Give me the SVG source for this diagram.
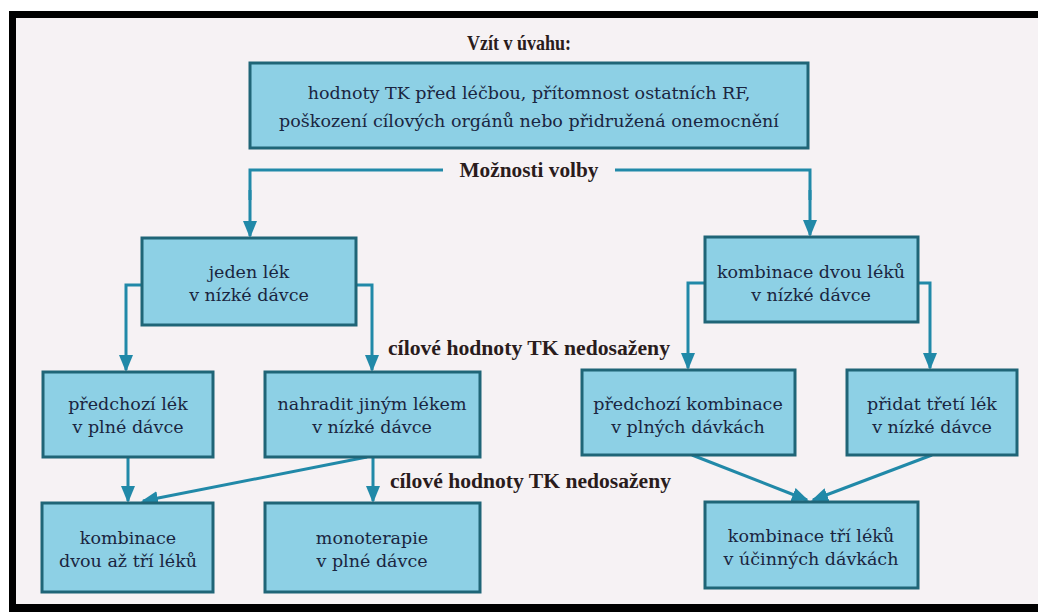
<svg xmlns="http://www.w3.org/2000/svg" width="1038" height="612" viewBox="0 0 1038 612">
<style>
.bx{fill:#8dd0e5;stroke:#1f6577;stroke-width:3}
.t{font-family:"DejaVu Serif","Liberation Serif",serif;font-size:17.5px;fill:#1a2540;text-anchor:middle}
.lb{font-family:"Liberation Serif","DejaVu Serif",serif;font-weight:bold;font-size:21px;fill:#2a1c1c}
.c{fill:none;stroke:#2189a8;stroke-width:3;marker-end:url(#ah)}
.cn{fill:none;stroke:#2189a8;stroke-width:3}
</style>
<defs>
<marker id="ah" markerUnits="userSpaceOnUse" markerWidth="17" markerHeight="14" refX="15" refY="7" orient="auto">
<path d="M0,0 L17,7 L0,14 z" fill="#2189a8"/>
</marker>
</defs>
<rect x="0" y="0" width="1038" height="612" fill="#ffffff"/>
<rect x="12" y="14" width="1026" height="594" fill="#f6f2f4"/>
<path d="M12.5,604 L12.5,14.5 L1038,14.5" fill="none" stroke="#000" stroke-width="7"/>
<rect x="9" y="604" width="1029" height="8" fill="#000"/>

<g id="labels">
<text class="lb" x="519" y="50" text-anchor="middle" font-size="19" textLength="104" lengthAdjust="spacingAndGlyphs">Vzít v úvahu:</text>
<text class="lb" x="529" y="177" text-anchor="middle" textLength="139" lengthAdjust="spacingAndGlyphs">Možnosti volby</text>
<text class="lb" x="388" y="355" textLength="282" lengthAdjust="spacingAndGlyphs">cílové hodnoty TK nedosaženy</text>
<text class="lb" x="390" y="488" textLength="281" lengthAdjust="spacingAndGlyphs">cílové hodnoty TK nedosaženy</text>
</g>

<g id="connectors">
<path class="cn" d="M443,170 L250,170 L250,200"/>
<path class="c" d="M250,190 L250,236"/>
<path class="cn" d="M615,170 L810,170 L810,200"/>
<path class="c" d="M810,190 L810,235"/>
<path class="c" d="M142,285 L126,285 L126,370"/>
<path class="c" d="M356,285 L372,285 L372,370"/>
<path class="c" d="M705,283 L688,283 L688,368"/>
<path class="c" d="M918,283 L930,283 L930,368"/>
<path class="c" d="M128,457 L128,501"/>
<path class="c" d="M367,457 L143,501"/>
<path class="c" d="M373,457 L373,501"/>
<path class="c" d="M692,455 L807,500"/>
<path class="c" d="M932,455 L813,500"/>
</g>

<g id="n-top"><rect class="bx" x="250" y="63" width="558" height="85"/>
<text class="t" x="529" y="99">hodnoty TK před léčbou, přítomnost ostatních RF,</text>
<text class="t" x="529" y="127">poškození cílových orgánů nebo přidružená onemocnění</text></g>

<g id="n-jeden"><rect class="bx" x="142" y="238" width="214" height="87"/>
<text class="t" x="249" y="278">jeden lék</text>
<text class="t" x="249" y="301">v nízké dávce</text></g>

<g id="n-kombdvou"><rect class="bx" x="705" y="237" width="213" height="85"/>
<text class="t" x="811" y="278">kombinace dvou léků</text>
<text class="t" x="811" y="301">v nízké dávce</text></g>

<g id="n-predlek"><rect class="bx" x="43" y="372" width="170" height="85"/>
<text class="t" x="128" y="410">předchozí lék</text>
<text class="t" x="128" y="433">v plné dávce</text></g>

<g id="n-nahradit"><rect class="bx" x="265" y="372" width="215" height="85"/>
<text class="t" x="372" y="410">nahradit jiným lékem</text>
<text class="t" x="372" y="433">v nízké dávce</text></g>

<g id="n-predkomb"><rect class="bx" x="582" y="370" width="213" height="85"/>
<text class="t" x="688" y="410">předchozí kombinace</text>
<text class="t" x="688" y="433">v plných dávkách</text></g>

<g id="n-pridat"><rect class="bx" x="847" y="370" width="170" height="85"/>
<text class="t" x="932" y="410">přidat třetí lék</text>
<text class="t" x="932" y="433">v nízké dávce</text></g>

<g id="n-kombdvouaz"><rect class="bx" x="42" y="503" width="171" height="89"/>
<text class="t" x="128" y="544">kombinace</text>
<text class="t" x="128" y="567">dvou až tří léků</text></g>

<g id="n-mono"><rect class="bx" x="265" y="503" width="215" height="89"/>
<text class="t" x="372" y="544">monoterapie</text>
<text class="t" x="372" y="567">v plné dávce</text></g>

<g id="n-kombtri"><rect class="bx" x="705" y="502" width="213" height="86"/>
<text class="t" x="811" y="542">kombinace tří léků</text>
<text class="t" x="811" y="565">v účinných dávkách</text></g>
</svg>
